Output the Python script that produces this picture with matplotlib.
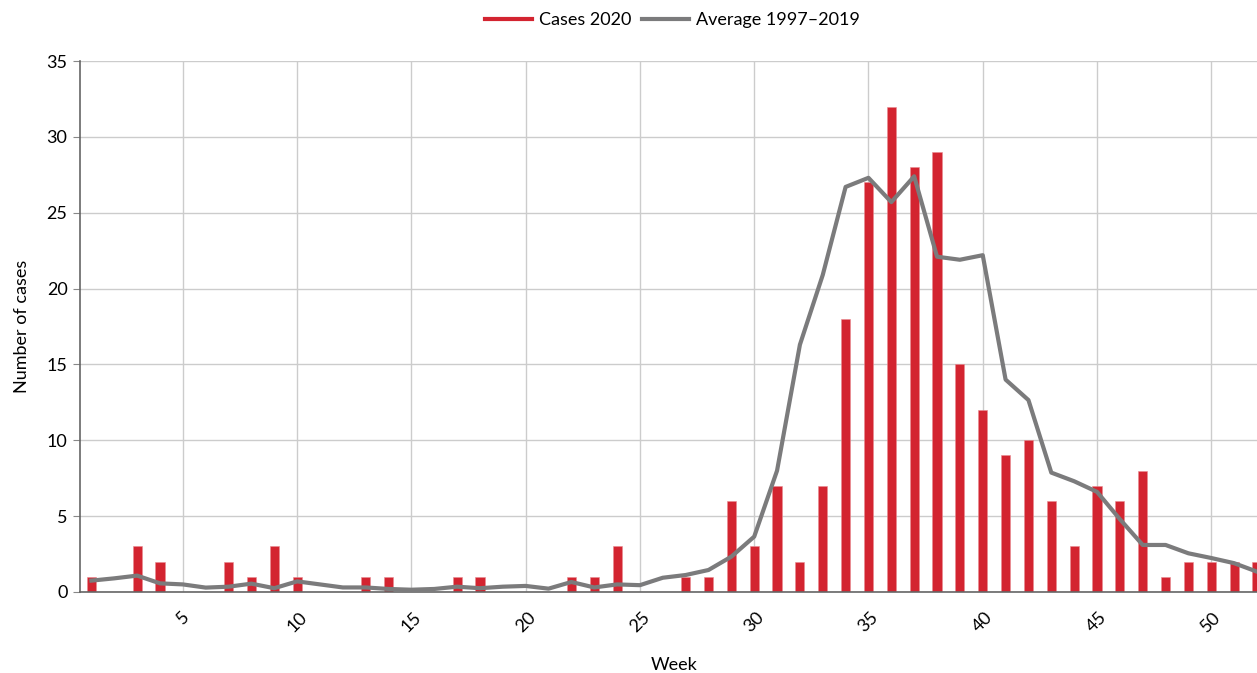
import numpy as np
import matplotlib
matplotlib.use("Agg")
import matplotlib.pyplot as plt
from matplotlib.lines import Line2D

plt.rcParams['font.family'] = ['Lato', 'DejaVu Sans']

weeks = list(range(1, 53))
cases_2020 = [1, 0, 3, 2, 0, 0, 2, 1, 3, 1,
              0, 0, 1, 1, 0, 0, 1, 1, 0, 0,
              0, 1, 1, 3, 0, 0, 1, 1, 6, 3,
              7, 2, 7, 18, 27, 32, 28, 29, 15, 12,
              9, 10, 6, 3, 7, 6, 8, 1, 2, 2,
              2, 2]
average_1997_2019 = [0.75, 0.9, 1.08, 0.57, 0.5, 0.29, 0.35, 0.55, 0.25, 0.7,
                     0.5, 0.3, 0.3, 0.2, 0.15, 0.2, 0.35, 0.25, 0.35, 0.4,
                     0.22, 0.66, 0.3, 0.5, 0.45, 0.94, 1.12, 1.45, 2.33, 3.65,
                     8.0, 16.3, 20.9, 26.7, 27.3, 25.7, 27.4, 22.1, 21.9, 22.2,
                     14.0, 12.65, 7.87, 7.3, 6.6, 4.8, 3.1, 3.1, 2.55, 2.24,
                     1.9, 1.34]

red = '#d32430'
grey = '#7b7b7c'

fig = plt.figure(figsize=(12.57, 6.73), dpi=100)
ax = fig.add_axes([80 / 1257, 1 - 592 / 673, 1 - 80 / 1257, (592 - 61) / 673])

ax.bar(weeks, cases_2020, width=0.4, color=red, edgecolor='#e88a90', linewidth=0.4, zorder=2)
ax.plot(weeks, average_1997_2019, color=grey, linewidth=3, zorder=3)

ax.set_xlim(0.5, 52.0)
ax.set_ylim(0, 35)
ax.set_xticks(range(5, 51, 5))
ax.set_yticks(range(0, 36, 5))
ax.tick_params(axis='x', length=0, labelsize=13, pad=12, labelrotation=45)
ax.tick_params(axis='y', length=5, color='#888888', labelsize=13, pad=4)
for lbl in ax.get_xticklabels():
    lbl.set_ha('center')

ax.grid(True, color='#cccccc', linewidth=1, zorder=0)
ax.set_axisbelow(True)
for s in ['top', 'right']:
    ax.spines[s].set_visible(False)
ax.spines['left'].set_color('#666666')
ax.spines['bottom'].set_color('#666666')
ax.spines['left'].set_linewidth(1.2)
ax.spines['bottom'].set_linewidth(1.2)

fig.text(674 / 1257, 1 - 665 / 673, 'Week', fontsize=13, ha='center', va='center')
ax.set_ylabel('Number of cases', fontsize=13, labelpad=12)

handles = [Line2D([], [], color=red, linewidth=3), Line2D([], [], color=grey, linewidth=3)]
fig.legend(handles, ['Cases 2020', 'Average 1997\u20132019'], loc='center',
           bbox_to_anchor=(0.535, 1 - 20 / 673), ncol=2, frameon=False, fontsize=13,
           handlelength=2.6, handletextpad=0.4, columnspacing=0.6)

fig.savefig('out.png', dpi=100)
